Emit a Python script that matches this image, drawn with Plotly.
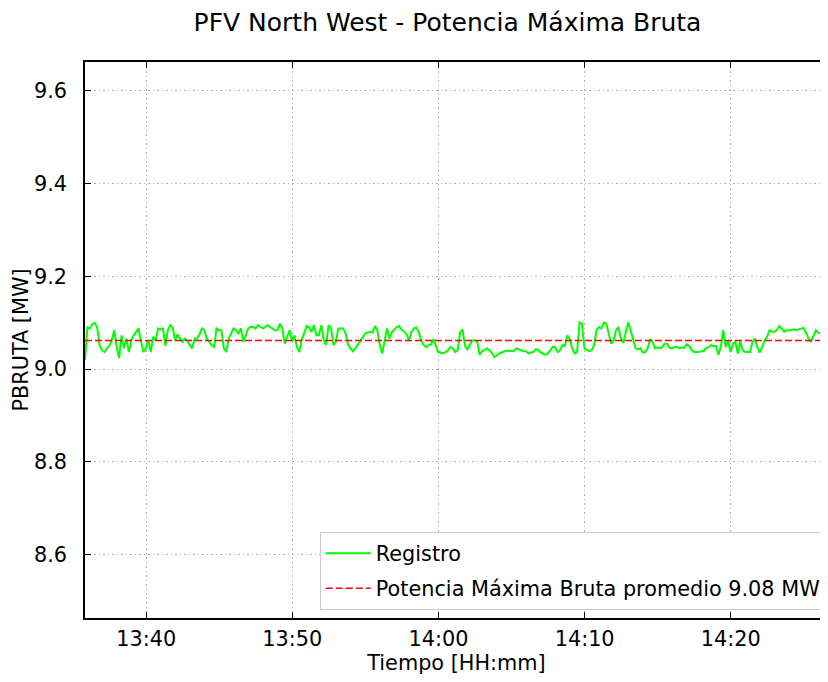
import plotly.graph_objects as go
import pandas as pd

# ---------------- data ----------------
chart_title = "PFV North West - Potencia Máxima Bruta"
x_title = "Tiempo [HH:mm]"
y_title = "PBRUTA [MW]"
start_time = "2023-01-01 13:35:49"
interval_s = 10

registro = [
    # 13:35:49 ...
    9.020, 9.090, 9.088, 9.097, 9.100, 9.090, 9.052, 9.041, 9.037, 9.045,
    9.050, 9.062, 9.084, 9.048, 9.024, 9.073, 9.045, 9.066, 9.037, 9.062,
    9.073, 9.080, 9.088, 9.060, 9.037, 9.045, 9.062, 9.037, 9.070, 9.062,
    9.088, 9.086, 9.088, 9.050, 9.084, 9.095, 9.090, 9.062, 9.075, 9.066,
    9.059, 9.066, 9.062, 9.052, 9.045, 9.066, 9.066, 9.075, 9.088, 9.084,
    9.066,
    # segment 2
    9.059, 9.052, 9.048, 9.088, 9.084, 9.084, 9.045, 9.037, 9.066, 9.077,
    9.088, 9.084, 9.077, 9.088, 9.059, 9.073, 9.088, 9.091, 9.091, 9.088,
    9.095, 9.091, 9.088, 9.091, 9.095, 9.091, 9.088, 9.084, 9.084, 9.098,
    9.088, 9.055, 9.070, 9.084, 9.060, 9.073, 9.048, 9.037, 9.064, 9.077,
    9.093, 9.091, 9.080, 9.095, 9.073, 9.073, 9.095, 9.062, 9.052, 9.095,
    9.088,
    # segment 3
    9.052, 9.059, 9.088, 9.088, 9.088, 9.077, 9.053, 9.045, 9.039, 9.045,
    9.053, 9.059, 9.068, 9.077, 9.079, 9.080, 9.079, 9.093, 9.084, 9.052,
    9.034, 9.066, 9.088, 9.066, 9.080, 9.086, 9.091, 9.093, 9.085, 9.082,
    9.075, 9.063, 9.080, 9.088, 9.090, 9.080, 9.062, 9.052, 9.048, 9.052,
    9.053, 9.065, 9.052, 9.037, 9.036, 9.034, 9.037, 9.041, 9.048, 9.045,
    9.037,
    # segment 4
    9.041, 9.080, 9.086, 9.050, 9.043, 9.053, 9.062, 9.062, 9.060, 9.031,
    9.039, 9.041, 9.045, 9.041, 9.036, 9.026, 9.029, 9.034, 9.036, 9.037,
    9.040, 9.040, 9.040, 9.039, 9.045, 9.043, 9.041, 9.039, 9.039, 9.034,
    9.036, 9.037, 9.043, 9.042, 9.036, 9.034, 9.031, 9.034, 9.041, 9.048,
    9.048, 9.037, 9.041, 9.052, 9.050, 9.073, 9.065, 9.045, 9.034, 9.037,
    9.101,
    # segment 5
    9.098, 9.045, 9.041, 9.039, 9.041, 9.052, 9.084, 9.091, 9.088, 9.101,
    9.098, 9.073, 9.055, 9.062, 9.084, 9.091, 9.066, 9.057, 9.080, 9.101,
    9.084, 9.062, 9.045, 9.043, 9.045, 9.036, 9.037, 9.045, 9.065, 9.059,
    9.045, 9.047, 9.045, 9.048, 9.055, 9.055, 9.046, 9.045, 9.048, 9.048,
    9.045, 9.047, 9.046, 9.054, 9.050, 9.042, 9.037, 9.037, 9.037, 9.039,
    9.039,
    # segment 6
    9.046, 9.047, 9.052, 9.050, 9.050, 9.031, 9.048, 9.084, 9.048, 9.062,
    9.037, 9.055, 9.059, 9.034, 9.060, 9.041, 9.037, 9.037, 9.037, 9.059,
    9.066, 9.048, 9.036, 9.048, 9.062, 9.070, 9.084, 9.081, 9.081, 9.084,
    9.093, 9.088, 9.081, 9.084, 9.084, 9.084, 9.086, 9.084, 9.086, 9.088,
    9.089, 9.079, 9.066, 9.059, 9.072, 9.084, 9.079, 9.077, 9.073, 9.070,
    9.034,
]

promedio_valor = 9.062
legend_registro = "Registro"
legend_promedio = "Potencia Máxima Bruta promedio 9.08 MW"

y_tick_values = [8.6, 8.8, 9.0, 9.2, 9.4, 9.6]
y_range = [8.4635, 9.6625]
x_tick_labels = ["13:40", "13:50", "14:00", "14:10", "14:20"]
x_tick_times = ["2023-01-01 " + t + ":00" for t in x_tick_labels]

# ---------------- figure ----------------
times = pd.date_range(start_time, periods=len(registro), freq=f"{interval_s}s")

FONT = "DejaVu Sans"
FS = 20.8
# page body has an 8px default margin: figure is 820x674 so it fills 828x682
W, H = 820, 674

fig = go.Figure()
fig.add_trace(go.Scatter(
    x=times, y=registro, mode="lines", name=legend_registro, legendgroup="a",
    line=dict(color="#00ff00", width=2),
))
fig.add_trace(go.Scatter(
    x=[times[0], times[-1]], y=[promedio_valor, promedio_valor],
    mode="lines", name=legend_promedio, legendgroup="b",
    line=dict(color="#ff0000", width=1.6, dash="7px,3px"),
))

axis_common = dict(
    showline=True, linecolor="black", linewidth=1.5, mirror="ticks",
    ticks="inside", ticklen=6, tickwidth=1.2, tickcolor="black",
    showgrid=True, gridcolor="#b0b0b0", griddash="1.5px,3px", gridwidth=1.2,
    zeroline=False, automargin=False,
    tickfont=dict(family=FONT, size=FS, color="#000000"),
)

fig.update_xaxes(
    **axis_common,
    range=[times[0], times[-1]],
    tickvals=x_tick_times, ticktext=x_tick_labels,
    ticklabelstandoff=1,
    title=dict(text=x_title, font=dict(family=FONT, size=FS, color="#000000"), standoff=5),
)
fig.update_yaxes(
    **axis_common,
    range=y_range,
    tickvals=y_tick_values, tickformat=".1f",
    ticklabelstandoff=12,
    title=dict(text=y_title, font=dict(family=FONT, size=FS, color="#000000"), standoff=0),
)

fig.update_layout(
    width=W, height=H,
    margin=dict(l=77, r=0, t=54, b=64, autoexpand=False),
    paper_bgcolor="white", plot_bgcolor="white",
    font=dict(family=FONT, size=FS, color="#000000"),
    title=dict(text=chart_title, font=dict(family=FONT, size=25, color="#000000"),
               x=0.536, xanchor="center", y=1 - 14 / H, yanchor="middle"),
    legend=dict(x=0.997, xanchor="right", y=0.014, yanchor="bottom",
                bgcolor="white", bordercolor="#cccccc", borderwidth=1,
                itemwidth=45, tracegroupgap=5,
                font=dict(family=FONT, size=FS, color="#000000")),
    showlegend=True,
)

fig.write_html("out.html")
